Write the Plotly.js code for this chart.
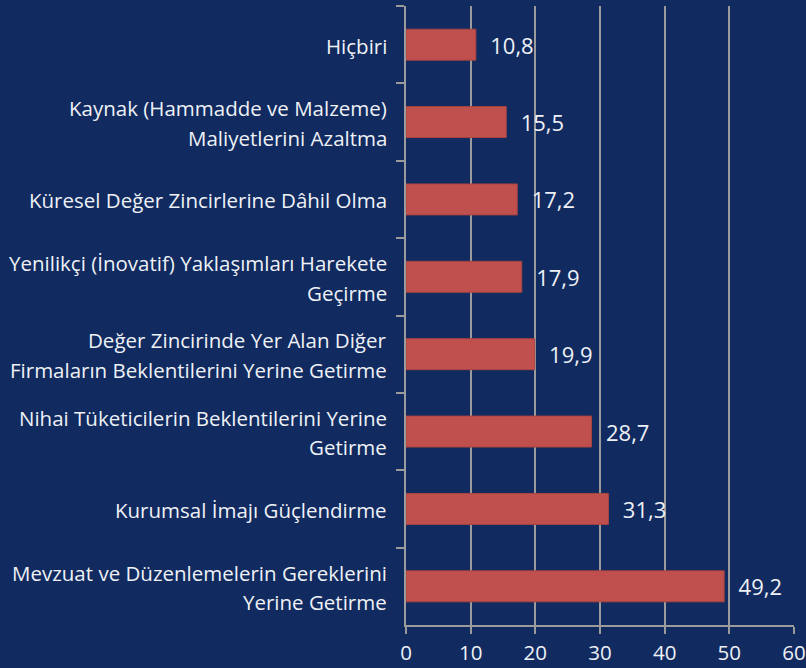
<!DOCTYPE html>
<html>
<head>
<meta charset="utf-8">
<script src="https://cdn.plot.ly/plotly-3.0.1.min.js"></script>
<style>html,body{margin:0;padding:0;background:#112a5f;}</style>
</head>
<body>
<div id="chart" style="width:806px;height:668px;"></div>
<script>
const categories = [
  "Hiçbiri",
  "Kaynak (Hammadde ve Malzeme)<br>Maliyetlerini Azaltma",
  "Küresel Değer Zincirlerine Dâhil Olma",
  "Yenilikçi (İnovatif) Yaklaşımları Harekete<br>Geçirme",
  "Değer Zincirinde Yer Alan Diğer<br>Firmaların Beklentilerini Yerine Getirme",
  "Nihai Tüketicilerin Beklentilerini Yerine<br>Getirme",
  "Kurumsal İmajı Güçlendirme",
  "Mevzuat ve Düzenlemelerin Gereklerini<br>Yerine Getirme"
];
const values = [10.8, 15.5, 17.2, 17.9, 19.9, 28.7, 31.3, 49.2];
const valueLabels = ["10,8", "15,5", "17,2", "17,9", "19,9", "28,7", "31,3", "49,2"];
const xTicks = [0, 10, 20, 30, 40, 50, 60];

const FONT = "'Open Sans', 'Noto Sans', sans-serif";
const TEXT = "#eef1f6";
const GRID = "#9b9b9b";
const LINE_GAP = 29.5;

const trace = {
  type: "bar",
  orientation: "h",
  y: categories,
  x: values,
  text: valueLabels.map(s => "\u00a0\u00a0" + s),
  textposition: "outside",
  cliponaxis: false,
  textfont: {family: FONT, size: 22, color: TEXT},
  marker: {color: "#c0504d", line: {color: "#a94441", width: 1}},
  hoverinfo: "none"
};

// category labels drawn as one annotation per line for wider line spacing
const annotations = [];
categories.forEach(cat => {
  const lines = cat.split("<br>");
  const n = lines.length;
  lines.forEach((ln, i) => {
    annotations.push({
      xref: "paper", x: 0, xanchor: "right", xshift: -17,
      yref: "y", y: cat, yanchor: "middle",
      yshift: ((n - 1) / 2 - i) * LINE_GAP - 1,
      text: ln, showarrow: false,
      font: {family: FONT, size: 20.5, color: TEXT}
    });
  });
});

const layout = {
  width: 806, height: 668,
  paper_bgcolor: "#112a5f",
  plot_bgcolor: "#112a5f",
  margin: {l: 406, r: 12, t: 6, b: 43},
  bargap: 0.6,
  showlegend: false,
  font: {family: FONT, color: TEXT, size: 19},
  annotations: annotations,
  xaxis: {
    range: [0, 60],
    tickvals: xTicks,
    ticktext: xTicks.map(String),
    showgrid: true, gridcolor: GRID, gridwidth: 2,
    zeroline: false,
    showline: true, linecolor: GRID, linewidth: 2,
    ticks: "outside", ticklen: 7, tickcolor: GRID, tickwidth: 2,
    ticklabelstandoff: 1,
    ticklabeloverflow: "allow",
    tickfont: {family: FONT, size: 20.5, color: TEXT}
  },
  yaxis: {
    type: "category",
    autorange: "reversed",
    tickson: "boundaries",
    showgrid: false,
    zeroline: false,
    showticklabels: false,
    showline: true, linecolor: GRID, linewidth: 2,
    ticks: "outside", ticklen: 8, tickcolor: GRID, tickwidth: 2
  }
};
Plotly.newPlot("chart", [trace], layout, {displayModeBar: false, staticPlot: true});
</script>
</body>
</html>
